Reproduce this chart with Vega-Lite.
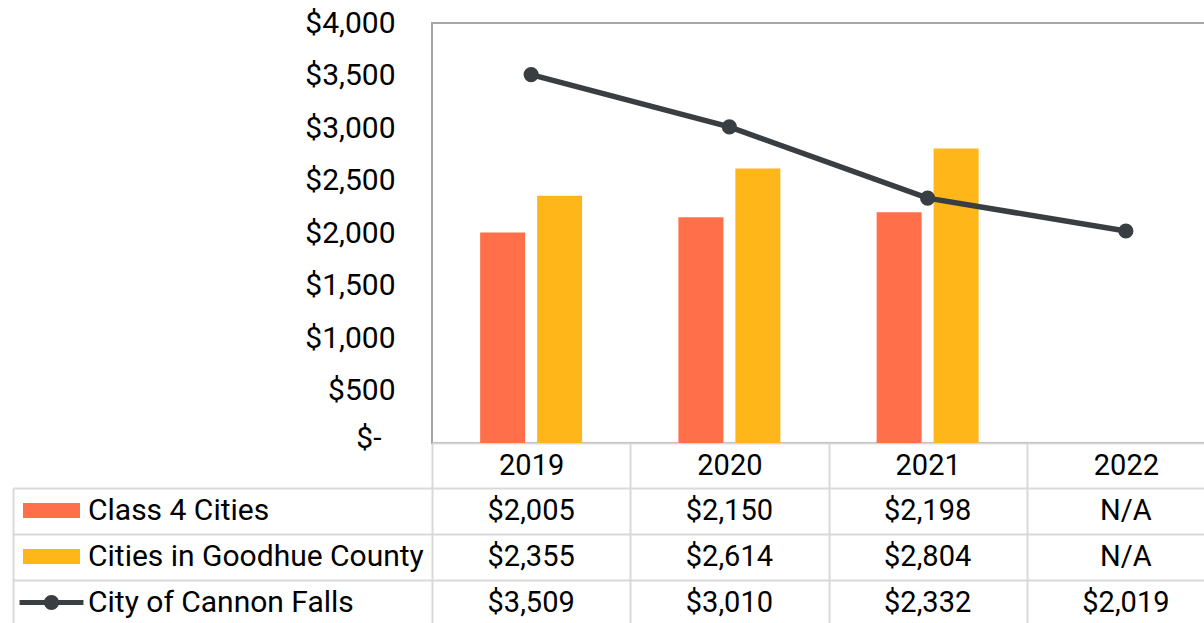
{
  "$schema": "https://vega.github.io/schema/vega-lite/v6.json",
  "background": "white",
  "padding": {"left": 12, "top": 7, "right": 0, "bottom": 0},
  "bounds": "flush",
  "spacing": 45,
  "config": {
    "font": "Roboto",
    "axis": {"labelFont": "Roboto", "labelColor": "#000000", "labelFontSize": 29},
    "legend": {"labelFont": "Roboto"},
    "text": {"font": "Roboto"}
  },
  "datasets": {
    "fees": [
      {"year": "2019", "series": "Class 4 Cities", "value": 2005},
      {"year": "2020", "series": "Class 4 Cities", "value": 2150},
      {"year": "2021", "series": "Class 4 Cities", "value": 2198},
      {"year": "2022", "series": "Class 4 Cities", "value": null},
      {"year": "2019", "series": "Cities in Goodhue County", "value": 2355},
      {"year": "2020", "series": "Cities in Goodhue County", "value": 2614},
      {"year": "2021", "series": "Cities in Goodhue County", "value": 2804},
      {"year": "2022", "series": "Cities in Goodhue County", "value": null},
      {"year": "2019", "series": "City of Cannon Falls", "value": 3509},
      {"year": "2020", "series": "City of Cannon Falls", "value": 3010},
      {"year": "2021", "series": "City of Cannon Falls", "value": 2332},
      {"year": "2022", "series": "City of Cannon Falls", "value": 2019}
    ]
  },
  "vconcat": [
    {
      "width": 793,
      "height": 420,
      "view": {"stroke": "#a6a6a6", "strokeWidth": 2},
      "data": {"name": "fees"},
      "encoding": {
        "x": {
          "field": "year", "type": "nominal",
          "scale": {"domain": ["2019", "2020", "2021", "2022"], "paddingInner": 0, "paddingOuter": 0},
          "axis": {
            "orient": "bottom", "title": null, "labelAngle": 0,
            "domain": true, "domainColor": "#d9d9d9", "domainWidth": 2,
            "ticks": true, "tickBand": "extent", "tickSize": 45, "tickColor": "#d9d9d9", "tickWidth": 2,
            "labelPadding": -23, "labelBaseline": "middle", "grid": false
          }
        }
      },
      "layer": [
        {
          "transform": [{"filter": {"field": "series", "oneOf": ["Class 4 Cities", "Cities in Goodhue County"]}}],
          "mark": {"type": "bar"},
          "encoding": {
            "xOffset": {
              "field": "series", "type": "nominal",
              "scale": {"domain": ["Class 4 Cities", "Cities in Goodhue County"], "paddingInner": 0.21, "paddingOuter": 0.845}
            },
            "y": {
              "field": "value", "type": "quantitative",
              "scale": {"domain": [0, 4000]},
              "axis": {
                "title": null, "grid": false, "domain": false, "ticks": false, "tickSize": 0,
                "values": [0, 500, 1000, 1500, 2000, 2500, 3000, 3500, 4000],
                "labelExpr": "datum.value === 0 ? '$-' : format(datum.value, '$,')",
                "labelFontSize": 30,
                "labelPadding": {"condition": {"test": "datum.value === 0", "value": 51}, "value": 37},
                "labelOffset": {"condition": {"test": "datum.value === 0", "value": -5}, "value": 0}
              }
            },
            "color": {
              "field": "series", "type": "nominal",
              "scale": {
                "domain": ["Class 4 Cities", "Cities in Goodhue County", "City of Cannon Falls"],
                "range": ["#FF6F4A", "#FFB619", "#393E43"]
              },
              "legend": {
                "orient": "none",
                "legendX": -395.5,
                "legendY": 472.5,
                "title": null,
                "padding": 0,
                "direction": "vertical",
                "symbolSize": 900,
                "symbolOffset": 0,
                "symbolStrokeWidth": 0,
                "labelOffset": 21.5,
                "rowPadding": 16,
                "labelFontSize": 30,
                "labelColor": "#000000",
                "labelLimit": 500,
                "encode": {
                  "symbols": {
                    "update": {
                      "shape": {"signal": "datum.value === 'City of Cannon Falls' ? 'M-2.13,-0.17H2.13V0.17H-2.13Z M-0.5,0A0.5,0.5 0 1,1 0.5,0A0.5,0.5 0 1,1 -0.5,0Z' : 'M-1.9,-0.5H1.9V0.5H-1.9Z'"},
                      "fill": {"signal": "scale('color', datum.value)"},
                      "stroke": {"value": "transparent"},
                      "strokeWidth": {"value": 0},
                      "opacity": {"value": 1},
                      "size": {"value": 900}
                    }
                  }
                }
              }
            }
          }
        },
        {
          "transform": [{"filter": {"field": "series", "equal": "City of Cannon Falls"}}],
          "mark": {"type": "line", "strokeWidth": 5.5, "point": {"filled": true, "size": 230, "opacity": 1}},
          "encoding": {
            "y": {"field": "value", "type": "quantitative"},
            "color": {"field": "series", "type": "nominal"}
          }
        }
      ]
    },
    {
      "width": 793,
      "height": 138,
      "view": {"stroke": null},
      "data": {"name": "fees"},
      "mark": {"type": "text", "fontSize": 29, "font": "Roboto", "color": "#000000"},
      "encoding": {
        "x": {
          "field": "year", "type": "nominal",
          "scale": {"domain": ["2019", "2020", "2021", "2022"], "paddingInner": 0, "paddingOuter": 0},
          "axis": {
            "orient": "top", "title": null, "labels": false, "ticks": false, "domain": false,
            "grid": true, "tickBand": "extent", "gridColor": "#d9d9d9", "gridWidth": 2
          }
        },
        "y": {
          "field": "series", "type": "nominal",
          "scale": {"domain": ["Class 4 Cities", "Cities in Goodhue County", "City of Cannon Falls"], "paddingInner": 0, "paddingOuter": 0},
          "axis": {
            "title": null, "labels": false, "offset": 419,
            "domain": true, "domainColor": "#d9d9d9", "domainWidth": 2,
            "ticks": true, "tickBand": "extent", "tickSize": -1212, "tickColor": "#d9d9d9", "tickWidth": 2,
            "grid": false
          }
        },
        "text": {
          "condition": {"test": "datum.value == null", "value": "N/A"},
          "field": "value", "type": "quantitative", "format": "$,.0f"
        }
      }
    }
  ]
}
